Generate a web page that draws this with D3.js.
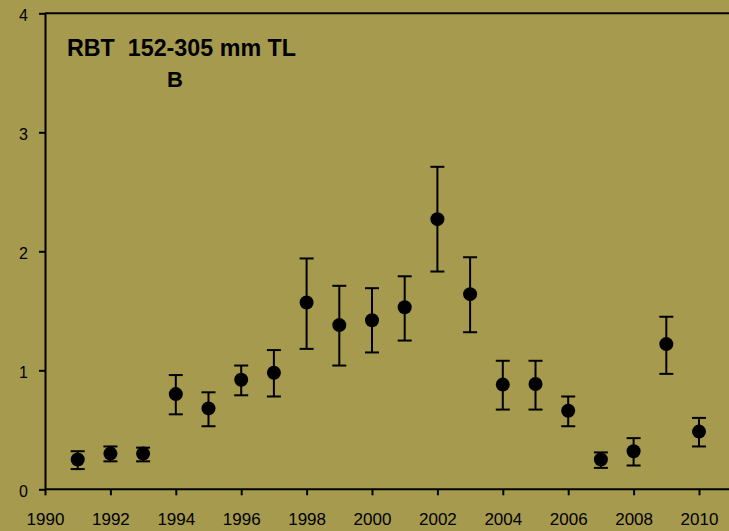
<!DOCTYPE html>
<html>
<head>
<meta charset="utf-8">
<script src="https://cdn.jsdelivr.net/npm/d3@7"></script>
<style>
  body { margin: 0; background: #a69a4f; }
  text { font-family: "Liberation Sans", Arial, sans-serif; fill: #000; }
</style>
</head>
<body>
<div id="chart"></div>
<script>
const years = [1991, 1992, 1993, 1994, 1995, 1996, 1997, 1998, 1999, 2000,
  2001, 2002, 2003, 2004, 2005, 2006, 2007, 2008, 2009, 2010];
const means = [0.25, 0.30, 0.30, 0.80, 0.68, 0.92, 0.98, 1.57, 1.38, 1.42,
  1.53, 2.27, 1.64, 0.88, 0.885, 0.66, 0.25, 0.32, 1.22, 0.485];
const upper = [0.32, 0.36, 0.35, 0.96, 0.815, 1.04, 1.17, 1.94, 1.71, 1.69,
  1.79, 2.71, 1.95, 1.08, 1.08, 0.78, 0.31, 0.43, 1.45, 0.60];
const lower = [0.17, 0.235, 0.235, 0.63, 0.53, 0.79, 0.78, 1.18, 1.04, 1.15,
  1.25, 1.83, 1.32, 0.67, 0.67, 0.53, 0.18, 0.20, 0.97, 0.36];
const xTicks = d3.range(1990, 2011, 2);
const yTicks = [0, 1, 2, 3, 4];
const titleLines = ['RBT  152-305 mm TL', 'B'];

const width = 729;
const height = 531;
const plotLeft = 45;
const plotTop = 13.3;
const plotBottom = 489.3;
const capHalf = 7;

const svg = d3.select('#chart')
  .append('svg')
  .attr('width', width)
  .attr('height', height);

svg.append('rect')
  .attr('width', width)
  .attr('height', height)
  .attr('fill', '#a69a4f');

const x = d3.scaleLinear().domain([1990, 2011]).range([plotLeft, plotLeft + 21 * 32.7]);
const y = d3.scaleLinear().domain([0, 4]).range([plotBottom, plotTop]);

// frame top line
svg.append('line')
  .attr('x1', plotLeft).attr('x2', width)
  .attr('y1', y(4)).attr('y2', y(4))
  .attr('stroke', '#000').attr('stroke-width', 2);

const xAxis = svg.append('g')
  .attr('transform', `translate(0,${plotBottom})`)
  .call(d3.axisBottom(x).tickValues(xTicks).tickFormat(d3.format('d'))
    .tickSize(6).tickSizeOuter(0).tickPadding(18));

const yAxis = svg.append('g')
  .attr('transform', `translate(${plotLeft},0)`)
  .call(d3.axisLeft(y).tickValues(yTicks).tickFormat(d3.format('d'))
    .tickSize(6).tickSizeOuter(0).tickPadding(11));

[xAxis, yAxis].forEach((g) => {
  g.attr('font-family', null);
  g.select('.domain').attr('stroke', '#000').attr('stroke-width', 2);
  g.selectAll('.tick line').attr('stroke', '#000').attr('stroke-width', 2);
  g.selectAll('.tick text').attr('fill', '#000');
});
xAxis.select('.domain').attr('d', `M${plotLeft},0H${width}`);
xAxis.attr('font-size', 17);
yAxis.attr('font-size', 16);
xAxis.selectAll('.tick text').attr('dy', '0.68em');
yAxis.selectAll('.tick text').attr('transform', 'translate(0,2.5)');

// error bars
const bars = svg.append('g')
  .selectAll('g')
  .data(years)
  .enter()
  .append('g');

bars.append('line')
  .attr('x1', (d) => x(d)).attr('x2', (d) => x(d))
  .attr('y1', (d, i) => y(upper[i])).attr('y2', (d, i) => y(lower[i]))
  .attr('stroke', '#000').attr('stroke-width', 2);

bars.append('line')
  .attr('x1', (d) => x(d) - capHalf).attr('x2', (d) => x(d) + capHalf)
  .attr('y1', (d, i) => y(upper[i])).attr('y2', (d, i) => y(upper[i]))
  .attr('stroke', '#000').attr('stroke-width', 2);

bars.append('line')
  .attr('x1', (d) => x(d) - capHalf).attr('x2', (d) => x(d) + capHalf)
  .attr('y1', (d, i) => y(lower[i])).attr('y2', (d, i) => y(lower[i]))
  .attr('stroke', '#000').attr('stroke-width', 2);

bars.append('circle')
  .attr('cx', (d) => x(d))
  .attr('cy', (d, i) => y(means[i]))
  .attr('r', 7)
  .attr('fill', '#000');

// title
svg.append('text')
  .text(titleLines[0])
  .attr('x', 67)
  .attr('y', 56)
  .attr('font-size', '23px')
  .attr('font-weight', 'bold')
  .attr('textLength', 229)
  .attr('lengthAdjust', 'spacingAndGlyphs')
  .style('white-space', 'pre');

svg.append('text')
  .text(titleLines[1])
  .attr('x', 175)
  .attr('y', 87)
  .attr('text-anchor', 'middle')
  .attr('font-size', '22px')
  .attr('font-weight', 'bold');
</script>
</body>
</html>
